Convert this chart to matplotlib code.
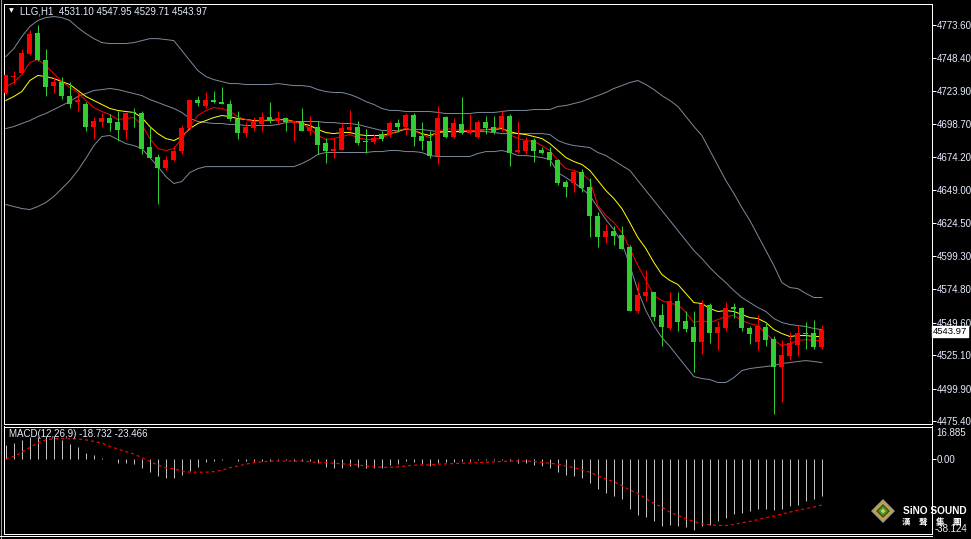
import matplotlib
matplotlib.use("Agg")
import matplotlib.pyplot as plt
import numpy as np
from matplotlib.patches import Polygon
from matplotlib.lines import Line2D

# ---- data (LLG, H1) ----
title = "LLG,H1  4531.10 4547.95 4529.71 4543.97"
macd_title = "MACD(12,26,9) -18.732 -23.466"

opens = [
    4722.0, 4734.2, 4737.0, 4751.6, 4767.1, 4747.1, 4727.2, 4730.2, 4720.2, 4715.0,
    4714.0, 4696.9, 4700.7, 4703.2, 4700.2, 4694.4, 4707.5, 4706.9, 4681.4, 4673.8,
    4665.6, 4671.9, 4678.4, 4696.0, 4716.5, 4712.0, 4717.2, 4715.7, 4714.0, 4702.7,
    4691.9, 4695.6, 4698.9, 4704.4, 4700.9, 4703.2, 4699.9, 4701.4, 4693.9, 4696.9,
    4684.4, 4678.9, 4679.4, 4694.4, 4696.4, 4685.9, 4685.1, 4691.6, 4690.9, 4699.7,
    4696.4, 4705.9, 4689.7, 4686.4, 4675.1, 4703.9, 4688.9, 4698.9, 4691.9, 4688.9,
    4700.2, 4696.9, 4695.6, 4705.2, 4677.6, 4678.4, 4686.9, 4679.6, 4678.1, 4671.9,
    4655.1, 4654.3, 4662.6, 4651.8, 4630.0, 4613.7, 4618.7, 4615.7, 4606.2, 4558.6,
    4569.9, 4572.4, 4554.9, 4545.6, 4566.1, 4551.1, 4546.1, 4534.8, 4563.1, 4541.6,
    4545.3, 4561.1, 4560.6, 4545.6, 4534.8, 4546.6, 4537.3, 4516.0, 4524.8, 4533.0,
    4541.6, 4541.6, 4531.10,
]
highs = [
    4736.0, 4739.0, 4755.3, 4769.6, 4773.6, 4755.3, 4734.0, 4734.0, 4730.2, 4722.0,
    4715.2, 4704.4, 4706.9, 4706.5, 4708.9, 4707.7, 4711.0, 4708.9, 4696.4, 4676.6,
    4675.1, 4682.6, 4698.4, 4717.2, 4719.5, 4722.7, 4724.0, 4727.0, 4717.0, 4708.4,
    4700.2, 4703.9, 4707.7, 4715.7, 4708.9, 4704.4, 4701.4, 4710.5, 4705.2, 4701.4,
    4688.4, 4688.6, 4700.2, 4709.5, 4701.4, 4695.2, 4691.4, 4693.9, 4701.4, 4702.7,
    4706.9, 4706.9, 4700.2, 4693.9, 4712.7, 4705.2, 4703.0, 4718.9, 4706.5, 4702.2,
    4705.2, 4705.2, 4709.5, 4706.5, 4700.9, 4688.9, 4688.4, 4681.4, 4681.4, 4672.6,
    4656.9, 4664.4, 4665.1, 4658.3, 4632.5, 4623.8, 4621.8, 4621.8, 4607.5, 4579.9,
    4589.2, 4572.9, 4563.6, 4572.4, 4572.4, 4558.6, 4557.9, 4566.7, 4564.1, 4550.6,
    4564.8, 4564.1, 4561.1, 4547.3, 4554.9, 4549.8, 4539.8, 4536.1, 4542.3, 4548.1,
    4549.8, 4551.6, 4547.95,
]
lows = [
    4721.0, 4729.0, 4736.5, 4751.0, 4746.5, 4719.5, 4722.0, 4717.7, 4711.0, 4708.4,
    4693.9, 4687.7, 4696.9, 4693.9, 4685.9, 4687.7, 4696.9, 4676.4, 4673.0, 4638.8,
    4664.4, 4671.0, 4676.4, 4695.4, 4712.0, 4711.0, 4714.8, 4713.5, 4701.4, 4687.7,
    4688.9, 4693.9, 4693.4, 4699.4, 4698.9, 4693.9, 4685.9, 4693.5, 4690.2, 4675.9,
    4669.3, 4673.1, 4679.0, 4693.9, 4683.4, 4676.9, 4683.9, 4685.9, 4688.9, 4692.6,
    4690.2, 4682.6, 4679.6, 4673.4, 4668.9, 4688.4, 4688.4, 4691.5, 4691.4, 4688.4,
    4691.4, 4691.4, 4693.4, 4666.9, 4677.0, 4676.4, 4670.1, 4675.9, 4666.9, 4652.6,
    4643.8, 4647.5, 4647.5, 4613.7, 4606.7, 4609.2, 4607.5, 4604.8, 4557.9, 4556.6,
    4565.6, 4550.6, 4531.6, 4544.1, 4543.6, 4542.8, 4512.2, 4525.6, 4534.0, 4529.3,
    4543.0, 4553.1, 4543.6, 4533.6, 4528.6, 4532.3, 4480.9, 4489.7, 4521.8, 4524.8,
    4529.8, 4529.8, 4529.71,
]
closes = [
    4735.3, 4735.0, 4752.0, 4766.6, 4747.1, 4727.0, 4730.2, 4719.5, 4714.0, 4716.5,
    4696.9, 4701.4, 4703.2, 4699.4, 4694.4, 4706.9, 4707.0, 4680.2, 4673.4, 4665.9,
    4671.9, 4678.9, 4696.0, 4716.5, 4714.4, 4717.2, 4715.2, 4714.0, 4702.7, 4691.9,
    4696.4, 4700.7, 4704.4, 4700.9, 4703.2, 4700.2, 4701.1, 4693.9, 4696.9, 4683.4,
    4678.9, 4680.2, 4695.6, 4696.4, 4684.7, 4685.2, 4688.4, 4687.9, 4699.7, 4696.4,
    4705.9, 4688.9, 4685.9, 4674.4, 4703.5, 4688.9, 4699.4, 4691.9, 4693.9, 4700.2,
    4696.0, 4692.6, 4705.2, 4676.9, 4679.4, 4686.2, 4678.9, 4677.2, 4671.4, 4654.3,
    4651.8, 4662.6, 4650.8, 4629.3, 4613.7, 4618.7, 4615.0, 4605.0, 4558.6, 4570.6,
    4572.4, 4554.1, 4546.1, 4566.1, 4549.8, 4544.9, 4534.8, 4563.6, 4541.6, 4546.1,
    4560.6, 4560.1, 4545.3, 4540.6, 4546.8, 4536.8, 4516.0, 4525.5, 4534.0, 4541.6,
    4540.6, 4531.0, 4543.97,
]

bb_upper = [
    4749.5, 4755.5, 4764.5, 4772.1, 4776.6, 4778.8, 4779.6, 4778.8, 4776.6, 4771.3,
    4766.8, 4763.0, 4760.0, 4759.3, 4759.3, 4759.3, 4760.0, 4761.5, 4763.0, 4763.0,
    4762.3, 4761.5, 4754.0, 4746.5, 4739.0, 4734.5, 4732.2, 4730.7, 4729.2, 4729.2,
    4728.5, 4728.5, 4728.5, 4728.5, 4729.2, 4728.5, 4727.7, 4727.7, 4727.0, 4724.7,
    4723.2, 4722.5, 4722.5, 4721.0, 4718.7, 4715.7, 4713.5, 4710.5, 4709.0, 4709.0,
    4708.2, 4708.2, 4708.2, 4708.2, 4707.5, 4706.7, 4706.7, 4706.7, 4706.7, 4707.5,
    4707.5, 4707.5, 4708.2, 4709.0, 4709.0, 4709.0, 4709.7, 4709.7, 4709.7, 4712.0,
    4712.7, 4714.2, 4715.7, 4718.0, 4720.2, 4722.5, 4725.5, 4727.7, 4730.0, 4731.5,
    4728.5, 4724.7, 4720.2, 4716.5, 4712.0, 4704.5, 4697.0, 4690.2, 4678.9, 4667.6,
    4656.3, 4646.6, 4636.0, 4626.3, 4615.0, 4603.7, 4592.4, 4579.6, 4575.9, 4575.1,
    4571.4, 4568.4, 4568.4,
]
bb_middle = [
    4695.4, 4696.9, 4699.2, 4701.4, 4704.4, 4706.7, 4709.7, 4712.7, 4715.7, 4719.5,
    4721.7, 4724.0, 4724.7, 4725.5, 4724.7, 4723.2, 4721.7, 4720.2, 4717.2, 4715.0,
    4712.7, 4710.5, 4707.5, 4703.0, 4700.7, 4699.9, 4699.2, 4699.2, 4698.4, 4698.4,
    4697.7, 4697.7, 4697.7, 4697.7, 4698.4, 4699.9, 4700.7, 4700.7, 4700.7, 4700.7,
    4699.9, 4699.9, 4699.2, 4699.2, 4698.4, 4696.9, 4695.4, 4693.9, 4693.9, 4693.9,
    4694.7, 4694.7, 4694.7, 4693.9, 4693.1, 4693.1, 4693.1, 4693.1, 4693.1, 4693.1,
    4693.1, 4692.4, 4691.6, 4691.6, 4691.6, 4691.6, 4691.6, 4691.6, 4690.9, 4686.4,
    4684.1, 4682.6, 4681.9, 4681.1, 4677.4, 4675.1, 4671.4, 4667.6, 4663.9, 4656.3,
    4648.8, 4641.3, 4633.8, 4626.3, 4618.7, 4611.2, 4603.7, 4597.7, 4590.9, 4584.9,
    4579.6, 4573.6, 4568.4, 4564.6, 4560.9, 4557.9, 4552.6, 4549.6, 4548.1, 4547.3,
    4546.6, 4545.1, 4544.3,
]
bb_lower = [
    4638.3, 4636.8, 4635.3, 4634.5, 4636.8, 4639.8, 4644.3, 4650.3, 4656.3, 4663.9,
    4672.9, 4682.6, 4689.4, 4690.2, 4687.2, 4684.1, 4682.6, 4680.4, 4673.6, 4666.8,
    4659.3, 4654.1, 4655.6, 4662.3, 4665.3, 4666.8, 4666.8, 4666.8, 4666.8, 4666.8,
    4666.8, 4666.8, 4666.8, 4666.8, 4666.8, 4666.8, 4666.8, 4669.1, 4672.1, 4675.9,
    4677.4, 4677.4, 4677.4, 4677.4, 4677.4, 4677.4, 4678.1, 4678.1, 4678.9, 4678.9,
    4678.1, 4678.1, 4677.4, 4675.1, 4674.4, 4674.4, 4674.4, 4674.4, 4674.4, 4676.6,
    4678.1, 4678.1, 4678.9, 4677.4, 4675.1, 4675.1, 4674.4, 4673.6, 4672.1, 4662.3,
    4658.6, 4654.8, 4650.3, 4645.1, 4636.0, 4627.0, 4619.5, 4609.7, 4592.4, 4573.6,
    4558.6, 4547.3, 4538.3, 4531.6, 4524.0, 4516.5, 4509.0, 4507.5, 4506.7, 4504.5,
    4504.5, 4508.2, 4513.5, 4515.0, 4515.8, 4516.5, 4517.3, 4518.8, 4519.5, 4520.3,
    4521.0, 4520.3, 4519.5,
]
ma_fast = [
    4727.0, 4730.0, 4736.0, 4745.0, 4747.3, 4742.7, 4736.8, 4730.7, 4726.2, 4722.5,
    4716.5, 4711.2, 4708.2, 4705.9, 4702.2, 4702.9, 4703.7, 4698.4, 4687.9, 4680.4,
    4678.9, 4680.4, 4687.9, 4696.9, 4705.2, 4708.9, 4711.2, 4710.5, 4708.2, 4704.4,
    4702.2, 4700.7, 4701.4, 4702.2, 4702.2, 4701.4, 4700.7, 4699.2, 4695.4, 4690.2,
    4687.2, 4687.9, 4689.4, 4690.9, 4688.6, 4687.2, 4687.2, 4688.6, 4690.9, 4693.9,
    4695.4, 4693.9, 4690.9, 4688.6, 4693.1, 4695.4, 4694.7, 4693.9, 4693.9, 4693.9,
    4694.7, 4695.4, 4696.2, 4690.9, 4687.9, 4686.4, 4685.6, 4682.6, 4678.9, 4671.4,
    4665.3, 4663.9, 4661.6, 4656.3, 4637.5, 4630.0, 4624.7, 4617.2, 4605.2, 4592.4,
    4581.2, 4569.9, 4566.1, 4563.9, 4563.1, 4557.1, 4549.6, 4551.1, 4549.6, 4551.8,
    4554.1, 4554.9, 4551.1, 4548.8, 4547.3, 4541.3, 4536.1, 4532.3, 4533.8, 4536.1,
    4536.8, 4536.1, 4536.1,
]
ma_slow = [
    4716.5, 4719.5, 4723.2, 4731.5, 4735.3, 4734.5, 4733.0, 4730.7, 4728.5, 4724.0,
    4719.5, 4716.5, 4713.5, 4710.5, 4709.0, 4708.2, 4707.5, 4703.7, 4696.9, 4691.6,
    4687.9, 4686.4, 4689.4, 4695.4, 4699.2, 4701.4, 4703.7, 4705.2, 4704.4, 4702.9,
    4702.2, 4701.4, 4701.4, 4701.4, 4702.2, 4702.2, 4700.7, 4699.2, 4697.7, 4694.7,
    4692.4, 4691.6, 4692.4, 4692.4, 4690.9, 4690.2, 4690.2, 4690.2, 4691.6, 4693.1,
    4695.4, 4693.9, 4691.6, 4690.2, 4692.4, 4693.1, 4693.1, 4693.1, 4693.9, 4693.9,
    4694.7, 4694.7, 4695.4, 4693.1, 4691.6, 4690.9, 4689.4, 4687.9, 4684.1, 4678.9,
    4673.6, 4670.6, 4668.4, 4663.9, 4656.3, 4648.8, 4642.8, 4635.3, 4624.7, 4613.5,
    4605.2, 4594.7, 4585.7, 4581.2, 4578.2, 4571.4, 4564.6, 4563.9, 4560.1, 4557.9,
    4558.6, 4557.9, 4555.6, 4553.3, 4552.6, 4549.6, 4544.3, 4541.3, 4539.1, 4539.8,
    4539.8, 4539.1, 4539.1,
]

macd_hist = [
    7.5, 8.4, 10.1, 11.3, 11.3, 11.8, 11.8, 10.1, 7.9, 6.3,
    3.5, 2.0, 0.6, 0.2, -1.7, -1.7, -2.3, -4.3, -6.3, -8.4,
    -9.4, -9.8, -8.0, -5.8, -3.7, -1.5, -0.6, -0.1, 0.1, -1.1,
    -1.1, -1.1, -0.6, -0.6, -0.4, -0.4, -0.9, -0.9, -1.1, -2.0,
    -3.7, -4.6, -4.3, -3.2, -3.7, -4.6, -4.3, -4.3, -2.9, -2.5,
    -0.8, -1.5, -2.2, -3.2, -2.0, -1.5, -1.5, -1.1, -0.8, -0.3,
    -0.3, -0.1, -0.1, -0.8, -1.7, -2.0, -2.9, -3.2, -4.6, -6.3,
    -8.0, -8.6, -9.8, -12.4, -15.3, -17.5, -18.8, -20.5, -25.7, -28.4,
    -29.7, -31.9, -34.4, -34.0, -34.4, -34.9, -36.1, -34.4, -34.0, -31.9,
    -30.2, -27.9, -27.4, -26.7, -25.7, -25.3, -26.2, -25.7, -24.0, -23.3,
    -21.5, -20.5, -18.732,
]
macd_signal = [
    0.1, 1.5, 3.7, 6.1, 8.4, 10.0, 10.6, 10.6, 10.6, 10.5,
    10.0, 9.2, 8.4, 6.6, 5.3, 4.0, 2.7, 0.9, -1.1, -2.9,
    -4.3, -4.9, -6.0, -6.6, -6.6, -6.6, -6.3, -5.6, -4.3, -3.4,
    -2.5, -1.7, -1.3, -0.9, -0.9, -0.9, -0.9, -0.9, -1.3, -1.7,
    -1.7, -2.0, -2.3, -2.5, -2.9, -3.4, -3.9, -4.1, -4.1, -3.9,
    -3.4, -3.0, -2.9, -2.9, -2.5, -2.3, -2.2, -2.0, -1.8, -1.7,
    -1.5, -1.3, -1.1, -0.9, -0.9, -0.9, -1.1, -1.5, -2.0, -2.5,
    -3.4, -4.3, -5.4, -6.6, -8.4, -10.1, -11.5, -13.6, -15.8, -17.5,
    -20.1, -22.7, -24.5, -27.1, -28.8, -30.5, -31.9, -33.1, -33.6, -34.0,
    -34.0, -33.5, -32.6, -31.9, -31.0, -30.0, -29.2, -28.1, -27.1, -26.2,
    -25.3, -24.5, -23.466,
]

price_ticks = [4773.60, 4748.40, 4723.90, 4698.70, 4674.20, 4649.00, 4624.50,
               4599.30, 4574.80, 4549.60, 4525.10, 4499.90, 4475.40]
last_price = 4543.97
macd_max, macd_min = 16.885, -38.124

# ---- colours ----
BULL = "#ff0000"
BEAR = "#32cd32"
BAND = "#7a8899"
LABEL = "#e6ecff"
FONT = ["Liberation Sans", "DejaVu Sans"]

W, H = 971, 539


def box(x0, y0, x1, y1):
    """axes rect from pixel corners (top-left origin)"""
    return [x0 / W, 1 - y1 / H, (x1 - x0) / W, (y1 - y0) / H]


def fx(x):
    return x / W


def fy(y):
    return 1 - y / H


fig = plt.figure(figsize=(W / 100, H / 100), dpi=100, facecolor="black")
ax = fig.add_axes(box(3.5, 3.5, 931.5, 423.5))
ax2 = fig.add_axes(box(3.5, 426.5, 931.5, 533.5))

px = 72 / 100  # one pixel in points

for a in (ax, ax2):
    a.set_facecolor("black")
    for s in a.spines.values():
        s.set_color("white")
        s.set_linewidth(px)
    a.set_xticks([])
    a.yaxis.tick_right()
    a.tick_params(axis="y", colors="white", length=3, width=px, pad=1,
                  labelsize=7, labelcolor=LABEL)
    a.set_xlim(-0.29, 115.7)

n = len(closes)
x = np.arange(n)
o = np.array(opens)
c = np.array(closes)
up = c >= o
colors = np.where(up, BULL, BEAR)

# Bollinger bands + moving averages
ax.plot(x, bb_upper, color=BAND, lw=px)
ax.plot(x, bb_middle, color=BAND, lw=px)
ax.plot(x, bb_lower, color=BAND, lw=px)
ax.plot(x, ma_slow, color="#ffff00", lw=px)
ax.plot(x, ma_fast, color=BULL, lw=px)

# candles
ax.vlines(x, lows, highs, colors=colors, lw=px, zorder=3)
body_low = np.minimum(o, c)
body_h = np.maximum(np.abs(c - o), 0.8)
ax.bar(x, body_h, bottom=body_low, width=0.62, color=colors, lw=0, zorder=4)

ax.set_ylim(4473.7, 4789.4)
ax.set_yticks(price_ticks)
ax.set_yticklabels([f"{t:.2f}" for t in price_ticks], family=FONT)

# current price tag (sits over the 4549.60 label, as in MT4)
ax.text(1.0015, last_price - 1.2, f"{last_price:.2f}", transform=ax.get_yaxis_transform(),
        ha="left", va="center", fontsize=6.8, family=FONT, color="black",
        bbox=dict(boxstyle="square,pad=0.12", fc="white", ec="white"), zorder=10,
        clip_on=False)

# MACD panel
ax2.vlines(x, 0, macd_hist, colors="#c0c0c0", lw=px)
ax2.plot(x, macd_signal, color=BULL, lw=px * 1.2, linestyle=(0, (2.5, 2.5)))
ax2.set_ylim(macd_min, macd_max)
ax2.set_yticks([0])
ax2.set_yticklabels(["0.00"], family=FONT)

fig.text(fx(936), fy(433), f"{macd_max:.3f}", fontsize=7, family=FONT,
         color=LABEL, va="center", ha="left")
fig.text(fx(935), fy(529), f"{macd_min:.3f}", fontsize=7, family=FONT,
         color=LABEL, va="center", ha="left")

# titles
fig.text(fx(20), fy(12), title, fontsize=7, family=FONT, color=LABEL,
         va="center", ha="left")
fig.text(fx(9), fy(11), "▼", fontsize=4.5, family=["DejaVu Sans"], color="white",
         va="center", ha="left")
fig.text(fx(9), fy(434), macd_title, fontsize=7, family=FONT, color=LABEL,
         va="center", ha="left")

# outer frame lines
fig.add_artist(Line2D([fx(1), fx(1)], [fy(0), fy(539)], color="#a0a0a0", lw=px))
fig.add_artist(Line2D([fx(0), fx(931.5)], [fy(536), fy(536)], color="white", lw=px))

# logo (bottom right)
cx, cy = 883, 511


def diamond(r, col):
    pts = [(fx(cx), fy(cy - r)), (fx(cx + r), fy(cy)), (fx(cx), fy(cy + r)), (fx(cx - r), fy(cy))]
    fig.add_artist(Polygon(pts, closed=True, transform=fig.transFigure,
                           facecolor=col, edgecolor="none"))


diamond(12, "#9a9a8a")
diamond(9.5, "#c8a830")
diamond(7, "#4a4a20")
diamond(5, "#3c9a3c")
diamond(2.5, "#d0d040")
fig.text(fx(903), fy(511), "SiNO SOUND", fontsize=7.3, family=FONT, weight="bold",
         color="white", va="center", ha="left")
for i, ch in enumerate("漢聲集團"):
    fig.text(fx(906 + 17 * i), fy(522), ch, fontsize=6.2,
             family=["Noto Sans CJK TC", "DejaVu Sans"], weight="bold",
             color="white", va="center", ha="center")

fig.savefig("out.png", dpi=100, facecolor="black")
